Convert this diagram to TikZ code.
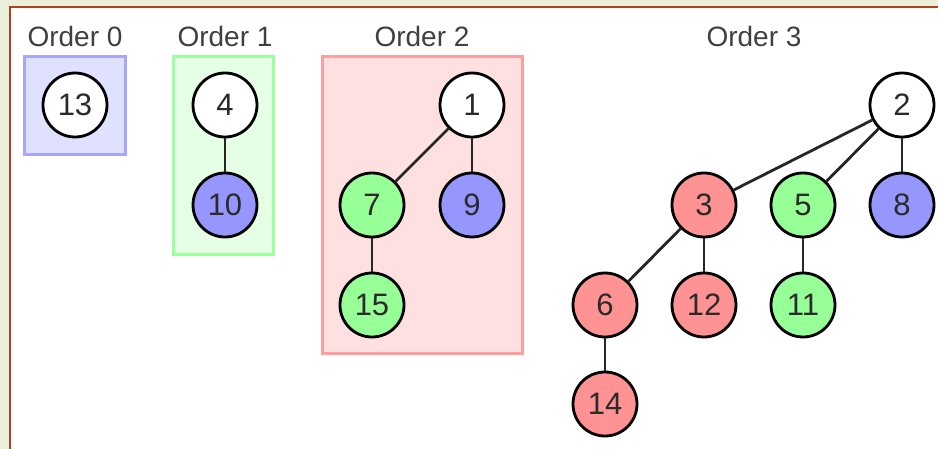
\documentclass[tikz,border=0pt]{standalone}
\usepackage{fontspec}
\setmainfont{Liberation Sans}
\definecolor{bgbeige}{HTML}{EBF0DA}
\definecolor{framered}{HTML}{B5401E}
\definecolor{nred}{HTML}{FF9393}
\definecolor{ngreen}{HTML}{96FF96}
\definecolor{nblue}{HTML}{9696FF}
\definecolor{txt}{HTML}{2A2A2A}
\definecolor{lbltxt}{HTML}{404040}
\tikzset{
  tn/.style={circle, draw=black, line width=2.8pt, minimum size=64pt, inner sep=0pt,
    font=\fontsize{31}{33}\selectfont, text=txt},
  wn/.style={tn, fill=white},
  rn/.style={tn, fill=nred},
  gn/.style={tn, fill=ngreen},
  bn/.style={tn, fill=nblue},
  edge/.style={line width=2.8pt, draw=black!85},
  lbl/.style={font=\fontsize{28}{30}\selectfont, text=lbltxt},
  ordbox/.style={line width=3pt}
}
\begin{document}
\begin{tikzpicture}[x=1pt,y=-1pt]
\useasboundingbox (0,0) rectangle (938,449);
\fill[bgbeige] (0,0) rectangle (938,449);
\fill[white] (10,7) rectangle (938,449);
\draw[framered, line width=1.8pt] (10,449) -- (10,7) -- (938,7);

% boxes
\draw[ordbox, draw=blue!35, fill=blue!12] (24.5,56.5) rectangle (125.5,154.5);
\draw[ordbox, draw=green!38, fill=green!10] (173.5,56.5) rectangle (273.5,254.5);
\draw[ordbox, draw=red!38, fill=red!12] (322.5,56.5) rectangle (522.5,353.5);

% labels
\node[lbl] (l0) at (75,36) {Order 0};
\node[lbl] (l1) at (225,36) {Order 1};
\node[lbl] (l2) at (422,36) {Order 2};
\node[lbl] (l3) at (754,36) {Order 3};

% order 0
\node[wn] (n13) at (75,105) {13};
% order 1
\node[wn] (n4) at (225,105) {4};
\node[bn] (n10) at (225,205) {10};
% order 2
\node[wn] (n1) at (472,105) {1};
\node[gn] (n7) at (372,205) {7};
\node[bn] (n9) at (472,205) {9};
\node[gn] (n15) at (372,305) {15};
% order 3
\node[wn] (n2) at (902,105) {2};
\node[rn] (n3) at (704,205) {3};
\node[gn] (n5) at (803,205) {5};
\node[bn] (n8) at (902,205) {8};
\node[rn] (n6) at (605,305) {6};
\node[rn] (n12) at (704,305) {12};
\node[gn] (n11) at (803,305) {11};
\node[rn] (n14) at (605,404) {14};

\draw[edge] (n4) -- (n10);
\draw[edge] (n1) -- (n7);
\draw[edge] (n1) -- (n9);
\draw[edge] (n7) -- (n15);
\draw[edge] (n2) -- (n3);
\draw[edge] (n2) -- (n5);
\draw[edge] (n2) -- (n8);
\draw[edge] (n3) -- (n6);
\draw[edge] (n3) -- (n12);
\draw[edge] (n5) -- (n11);
\draw[edge] (n6) -- (n14);
\end{tikzpicture}
\end{document}
